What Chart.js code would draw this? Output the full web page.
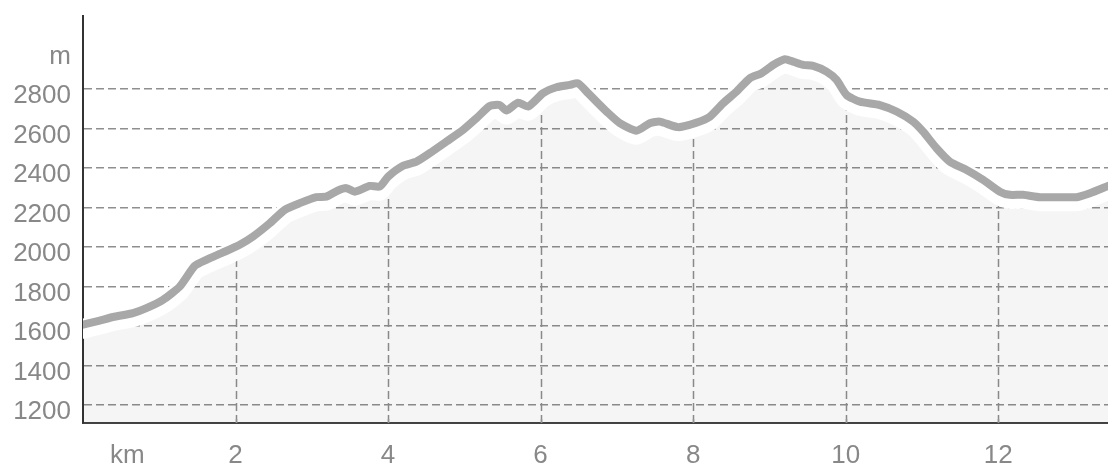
<!DOCTYPE html>
<html><head><meta charset="utf-8">
<script src="https://cdn.jsdelivr.net/npm/chart.js@4/dist/chart.umd.min.js"></script>
<style>html,body{margin:0;padding:0;background:#fff;overflow:hidden}</style>
</head><body>
<canvas id="c" width="1108" height="469"></canvas>
<script>
const distanceKm = [0,0.219,0.393,0.656,0.831,1.049,1.268,1.465,1.618,1.836,
2.055,2.230,2.449,2.645,2.842,3.061,3.192,3.344,3.454,3.563,
3.760,3.891,4.000,4.197,4.372,4.547,4.766,4.984,5.159,5.334,
5.465,5.553,5.705,5.836,6.033,6.208,6.383,6.492,6.623,6.733,
6.864,7.039,7.258,7.432,7.563,7.803,8.045,8.219,8.393,8.569,
8.744,8.897,9.049,9.203,9.311,9.443,9.574,9.749,9.881,10.012,
10.186,10.449,10.667,10.885,11.016,11.192,11.367,11.586,11.803,12.022,
12.153,12.328,12.547,12.852,13.028,13.203,13.44];
const elevationM = [1607,1628,1646,1666,1691,1733,1800,1905,1936,1973,
2012,2054,2121,2189,2223,2253,2256,2287,2299,2281,
2310,2307,2357,2412,2433,2476,2535,2594,2653,2715,
2720,2692,2732,2712,2780,2810,2822,2830,2780,2737,
2687,2628,2590,2628,2636,2608,2631,2661,2729,2788,
2856,2881,2923,2952,2940,2923,2918,2889,2847,2771,
2737,2720,2687,2636,2585,2501,2433,2391,2341,2281,
2265,2265,2253,2253,2253,2273,2310];
const xTickValues = [2,4,6,8,10,12];
const xUnitLabel = 'km';
const xUnitPos = 0.58;
const yTickValues = [1200,1400,1600,1800,2000,2200,2400,2600,2800];
const yUnitLabel = 'm';
const yUnitPos = 3000;
const xMin = 0, xMax = 13.44;
const yMin = 1109, yMax = 3171;

const points = distanceKm.map((d,i)=>({x:d, y:elevationM[i]}));
const FONT = {family:"'Liberation Sans', Arial, sans-serif", size:26};
const GRID_COLOR = '#8f8f8f';
const DASH = [8,4];

function tracePath(ctx, meta){
  const el = meta.dataset;
  if (el && typeof el.path === 'function') { el.path(ctx); return; }
  meta.data.forEach((p,i)=> i? ctx.lineTo(p.x,p.y) : ctx.moveTo(p.x,p.y));
}

const decor = {
  id:'decor',
  beforeDatasetsDraw(chart){
    const {ctx, chartArea:a} = chart;
    const meta = chart.getDatasetMeta(0);
    const pts = meta.data;
    if (!pts.length) return;
    const xs = chart.scales.x;
    ctx.save();
    ctx.beginPath();
    tracePath(ctx, meta);
    ctx.lineTo(pts[pts.length-1].x, a.bottom);
    ctx.lineTo(pts[0].x, a.bottom);
    ctx.closePath();
    ctx.clip();
    ctx.strokeStyle = GRID_COLOR;
    ctx.lineWidth = 1.5;
    ctx.setLineDash(DASH);
    xTickValues.forEach(v=>{
      const px = Math.round(xs.getPixelForValue(v)) + 0.5;
      ctx.beginPath(); ctx.moveTo(px, a.bottom); ctx.lineTo(px, a.top); ctx.stroke();
    });
    ctx.restore();
    ctx.save();
    ctx.strokeStyle = '#999';
    ctx.lineWidth = 1.5;
    xTickValues.forEach(v=>{
      const px = Math.round(xs.getPixelForValue(v)) + 0.5;
      ctx.beginPath(); ctx.moveTo(px, a.bottom); ctx.lineTo(px, a.bottom-4); ctx.stroke();
    });
    ctx.restore();
  },
  afterDatasetDraw(chart, args){
    if (args.index !== 0) return;
    const {ctx, chartArea:a} = chart;
    const meta = chart.getDatasetMeta(0);
    ctx.save();
    ctx.beginPath(); ctx.rect(a.left, a.top, a.right-a.left, a.bottom-a.top); ctx.clip();
    ctx.translate(0, 4);
    ctx.beginPath();
    tracePath(ctx, meta);
    ctx.strokeStyle = '#ffffff';
    ctx.lineWidth = 20;
    ctx.lineJoin = 'round';
    ctx.lineCap = 'round';
    ctx.stroke();
    ctx.restore();
  }
};

new Chart(document.getElementById('c'), {
  type:'line',
  data:{datasets:[
    {data:points, order:2, borderWidth:0, borderColor:'rgba(0,0,0,0)', fill:'start',
     backgroundColor:'rgba(0,0,0,0.04)', pointRadius:0, tension:0.2},
    {data:points, order:1, borderWidth:8, borderColor:'#a8a8a8', fill:false,
     pointRadius:0, tension:0.2, borderJoinStyle:'round', borderCapStyle:'round'}
  ]},
  options:{
    responsive:false, devicePixelRatio:1, animation:false,
    layout:{padding:{top:16,right:0,left:0,bottom:0}},
    plugins:{legend:{display:false}, tooltip:{enabled:false}},
    scales:{
      x:{type:'linear', min:xMin, max:xMax,
        afterBuildTicks:s=>{ s.ticks = [xUnitPos, ...xTickValues].map(v=>({value:v})); },
        afterFit:s=>{ s.height = 46; s.paddingLeft = 0; s.paddingRight = 0; },
        grid:{display:false, drawTicks:false},
        border:{display:true, color:'#444', width:2},
        ticks:{color:'#888', font:FONT, padding:17, maxRotation:0, autoSkip:false,
          callback:v=> v===xUnitPos ? xUnitLabel : String(v)}
      },
      y:{type:'linear', min:yMin, max:yMax,
        afterBuildTicks:s=>{ s.ticks = [...yTickValues, yUnitPos].map(v=>({value:v})); },
        afterFit:s=>{ s.width = 83; s.paddingTop = 0; s.paddingBottom = 0; },
        grid:{drawTicks:false, lineWidth:1.5,
          color:c=> (c.tick && c.tick.value===yUnitPos) ? 'rgba(0,0,0,0)' : GRID_COLOR},
        border:{display:true, color:'#333', width:2, dash:DASH},
        ticks:{color:'#888', font:FONT, padding:12, labelOffset:7, autoSkip:false,
          callback:v=> v===yUnitPos ? yUnitLabel : String(v)}
      }
    }
  },
  plugins:[decor]
});
</script>
</body></html>
